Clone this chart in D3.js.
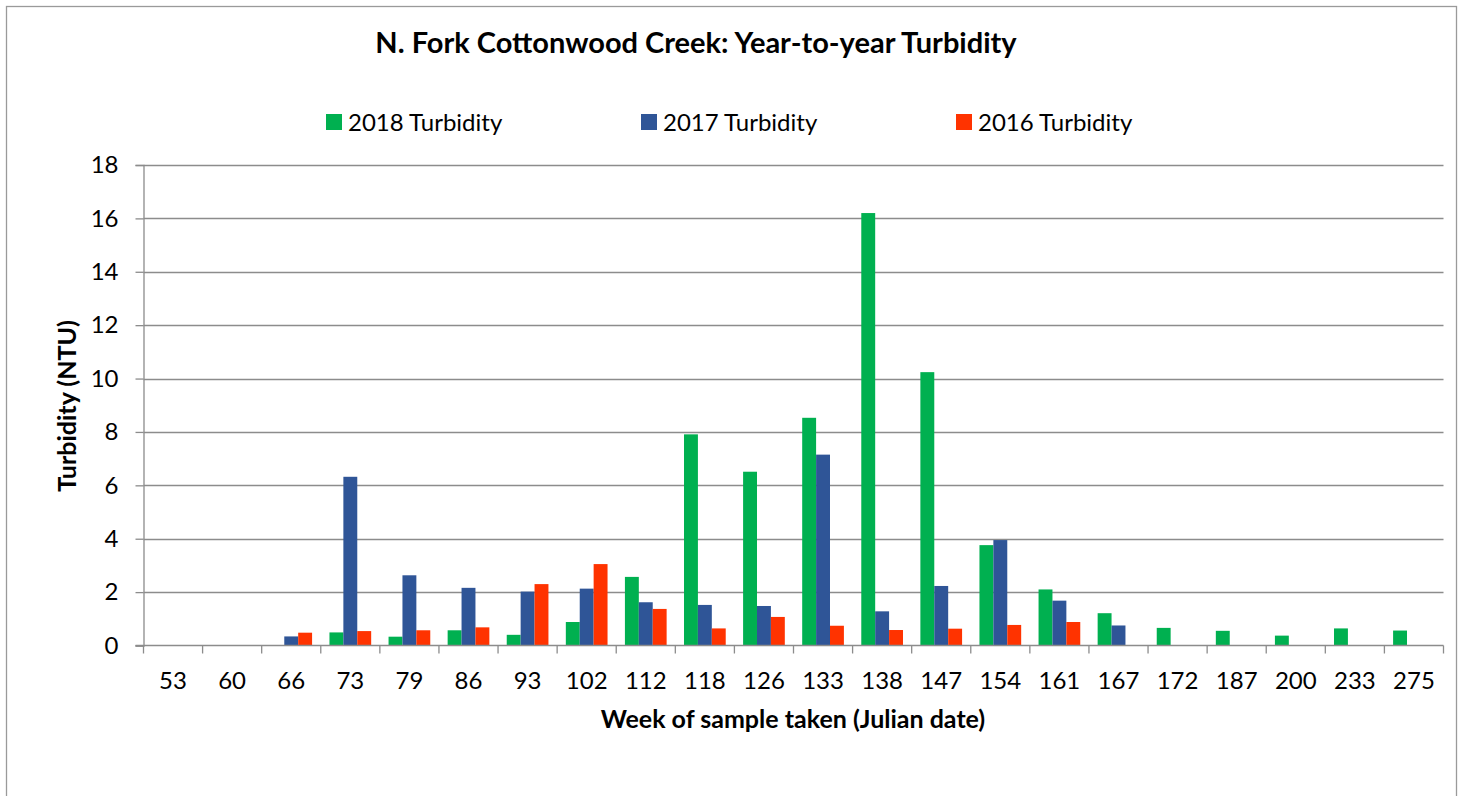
<!DOCTYPE html>
<html>
<head>
<meta charset="utf-8">
<script src="https://cdn.jsdelivr.net/npm/d3@7"></script>
<style>
  html, body { margin: 0; padding: 0; background: #fff; }
  svg { display: block; font-family: Lato, "Open Sans", sans-serif; }
</style>
</head>
<body>
<svg id="chart" width="1463" height="796"></svg>
<script>
// Sampling weeks (Julian date) on the x axis
const weeks = ["53", "60", "66", "73", "79", "86", "93", "102", "112", "118", "126",
               "133", "138", "147", "154", "161", "167", "172", "187", "200", "233", "275"];

// Turbidity (NTU) per week; null where no sample was taken
const turbidity2018 = [null, null, null, 0.49, 0.33, 0.57, 0.40, 0.88, 2.57, 7.91, 6.51,
                       8.53, 16.2, 10.24, 3.76, 2.10, 1.21, 0.66, 0.55, 0.37, 0.64, 0.56];
const turbidity2017 = [null, null, 0.34, 6.32, 2.63, 2.16, 2.02, 2.13, 1.62, 1.52, 1.48,
                       7.15, 1.28, 2.23, 3.95, 1.68, 0.75, null, null, null, null, null];
const turbidity2016 = [null, null, 0.48, 0.54, 0.57, 0.68, 2.30, 3.05, 1.37, 0.64, 1.07,
                       0.74, 0.58, 0.63, 0.77, 0.88, null, null, null, null, null, null];

const seriesNames = ["2018 Turbidity", "2017 Turbidity", "2016 Turbidity"];
const seriesColors = ["#00B050", "#2F5597", "#FF3300"];
const yTicks = [0, 2, 4, 6, 8, 10, 12, 14, 16, 18];

const series = [turbidity2018, turbidity2017, turbidity2016].map((vals, i) => ({
  name: seriesNames[i], color: seriesColors[i], values: vals
}));

const svg = d3.select("#chart");
const plot = { left: 143.5, right: 1443.5, top: 165, bottom: 645.5 };

// chart frame
svg.append("rect")
  .attr("x", 6.5).attr("y", 6.5)
  .attr("width", 1450).attr("height", 800)
  .attr("fill", "#fff").attr("stroke", "#9a9a9a").attr("stroke-width", 1.3);

const x = d3.scaleBand().domain(weeks).range([plot.left, plot.right]).paddingInner(0).paddingOuter(0);
const y = d3.scaleLinear().domain([0, 18]).range([plot.bottom, plot.top]);

// bar slots inside each week: three bars with gap of 1.25 bar widths
const barW = x.bandwidth() / (3 + 1.25);
const xInner = d3.scaleBand().domain(seriesNames)
  .range([(x.bandwidth() - 3 * barW) / 2, (x.bandwidth() + 3 * barW) / 2]);

// horizontal gridlines
svg.append("g")
  .selectAll("line")
  .data(yTicks.filter(d => d > 0))
  .join("line")
  .attr("x1", plot.left).attr("x2", plot.right)
  .attr("y1", d => Math.round(y(d)) + 0.5).attr("y2", d => Math.round(y(d)) + 0.5)
  .attr("stroke", "#8c8c8c").attr("stroke-width", 1.3);

// bars
series.forEach(s => {
  svg.append("g")
    .selectAll("rect")
    .data(weeks.map((w, i) => ({ w, v: s.values[i] })).filter(d => d.v != null))
    .join("rect")
    .attr("x", d => x(d.w) + xInner(s.name))
    .attr("width", barW)
    .attr("y", d => y(d.v))
    .attr("height", d => y(0) - y(d.v))
    .attr("fill", s.color);
});

// y axis
const yAxis = svg.append("g")
  .attr("transform", `translate(${plot.left},0)`)
  .call(d3.axisLeft(y).tickValues(yTicks).tickSize(8).tickPadding(17).tickFormat(d3.format("d")));
yAxis.select(".domain").attr("stroke", "#8c8c8c").attr("stroke-width", 1.3);
yAxis.selectAll(".tick line").attr("stroke", "#8c8c8c").attr("stroke-width", 1.3);
yAxis.selectAll(".tick text").attr("font-size", 24).attr("fill", "#000")
  .attr("font-family", "Lato, sans-serif");

// x axis: ticks sit between categories
const xAxisG = svg.append("g").attr("transform", `translate(0,${plot.bottom})`);
xAxisG.append("line")
  .attr("x1", plot.left - 8).attr("x2", plot.right)
  .attr("y1", 0).attr("y2", 0)
  .attr("stroke", "#8c8c8c").attr("stroke-width", 1.3);
xAxisG.selectAll("line.tick")
  .data(weeks.concat(["end"]))
  .join("line").attr("class", "tick")
  .attr("x1", (d, i) => plot.left + i * x.step())
  .attr("x2", (d, i) => plot.left + i * x.step())
  .attr("y1", 0).attr("y2", 8)
  .attr("stroke", "#8c8c8c").attr("stroke-width", 1.3);
xAxisG.selectAll("text")
  .data(weeks)
  .join("text")
  .attr("x", d => x(d) + x.bandwidth() / 2)
  .attr("y", 43)
  .attr("text-anchor", "middle")
  .attr("font-size", 24)
  .text(d => d);

// title
svg.append("text")
  .attr("x", 696).attr("y", 53)
  .attr("text-anchor", "middle")
  .attr("font-size", 29).attr("font-weight", "bold")
  .text("N. Fork Cottonwood Creek: Year-to-year Turbidity");

// axis titles
svg.append("text")
  .attr("x", 793).attr("y", 728)
  .attr("text-anchor", "middle")
  .attr("font-size", 25).attr("font-weight", "bold")
  .text("Week of sample taken (Julian date)");

svg.append("text")
  .attr("transform", "translate(76,406) rotate(-90)")
  .attr("text-anchor", "middle")
  .attr("font-size", 25).attr("font-weight", "bold")
  .text("Turbidity (NTU)");

// legend
const legendX = [326, 641, 956];
const legend = svg.append("g");
series.forEach((s, i) => {
  legend.append("rect")
    .attr("x", legendX[i]).attr("y", 114)
    .attr("width", 16).attr("height", 16)
    .attr("fill", s.color);
  legend.append("text")
    .attr("x", legendX[i] + 22).attr("y", 131)
    .attr("font-size", 24)
    .text(s.name);
});
</script>
</body>
</html>
